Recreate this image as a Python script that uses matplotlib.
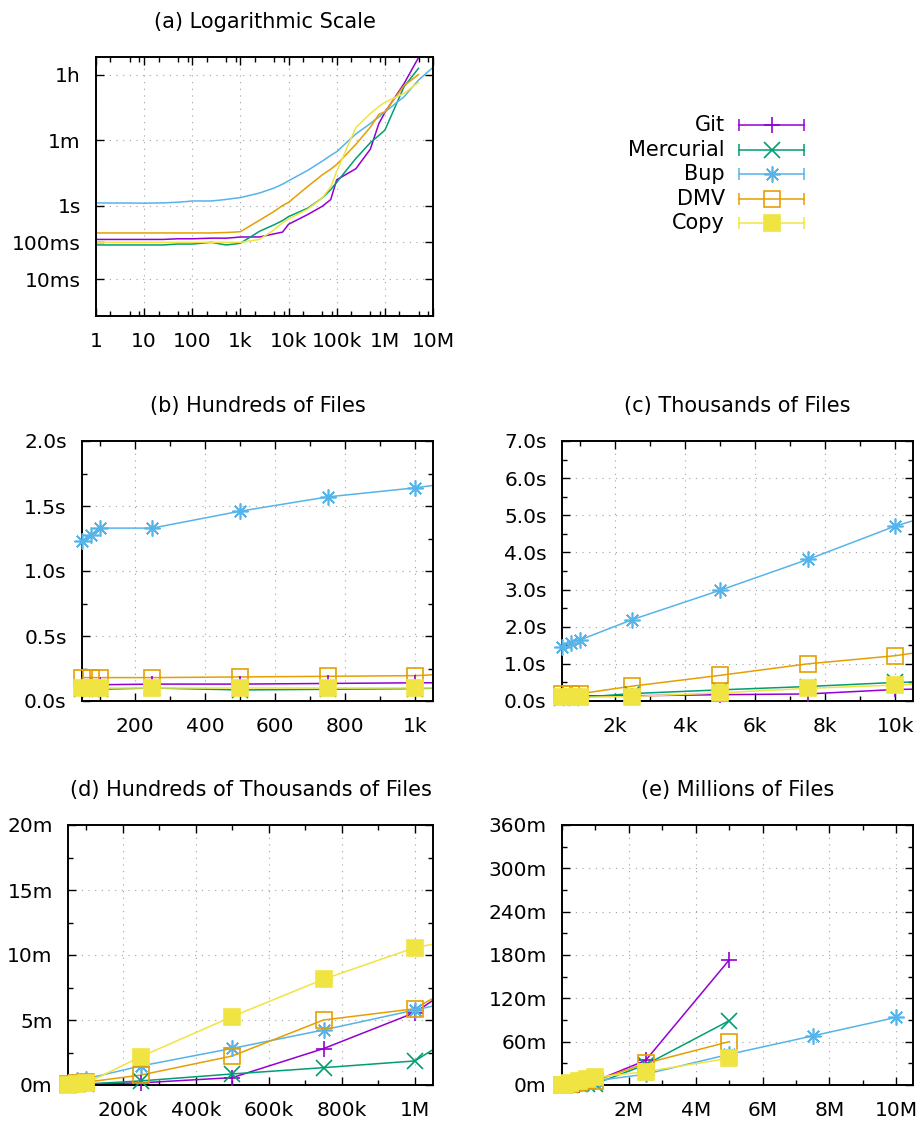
import numpy as np
import matplotlib
matplotlib.use('Agg')
import matplotlib.pyplot as plt
from matplotlib.ticker import FixedLocator, NullFormatter

nan = np.nan

# number of files
files = [1, 2, 5, 10, 25, 50, 75, 100, 250, 500, 750, 1000, 2500, 5000, 7500, 10000,
         25000, 50000, 75000, 100000, 250000, 500000, 750000, 1000000,
         2500000, 5000000, 7500000, 10000000]

# time in seconds
git = [0.12, 0.12, 0.12, 0.12, 0.12, 0.125, 0.125, 0.125, 0.13, 0.13, 0.135, 0.14,
       0.14, 0.17, 0.19, 0.31, 0.57, 0.95, 1.45, 5.0, 10.0, 34, 168, 334,
       2040, 10380, nan, nan]
mercurial = [0.085, 0.085, 0.085, 0.085, 0.085, 0.09, 0.09, 0.09, 0.1, 0.085, 0.09, 0.095,
             0.2, 0.3, 0.39, 0.5, 0.85, 1.6, 2.7, 4.3, 19, 51, 80, 111,
             1680, 5340, nan, nan]
bup = [1.18, 1.17, 1.17, 1.16, 1.18, 1.23, 1.28, 1.33, 1.33, 1.46, 1.57, 1.64,
       2.19, 2.98, 3.81, 4.71, 9.0, 16, 23, 29, 88, 169, 254, 346,
       900, 2550, 4080, 5620]
dmv = [0.18, 0.18, 0.18, 0.18, 0.18, 0.18, 0.18, 0.18, 0.18, 0.185, 0.19, 0.195,
       0.4, 0.69, 1.0, 1.22, 3.3, 6.8, 9.7, 13, 46, 134, 300, 352,
       1800, 3600, nan, nan]
copy = [0.1, 0.1, 0.1, 0.1, 0.1, 0.1, 0.1, 0.1, 0.1, 0.1, 0.1, 0.1,
        0.12, 0.22, 0.34, 0.43, 0.8, 1.6, 3.2, 8.5, 131, 316, 488, 634,
        1110, 2220, nan, nan]

names = ['Git', 'Mercurial', 'Bup', 'DMV', 'Copy']
series = [git, mercurial, bup, dmv, copy]
colors = ['#9400d3', '#009e73', '#56b4e9', '#e69f00', '#f0e442']
markers = ['+', 'x', (8, 2, 0), 's', 's']
filled = [False, False, False, False, True]

W, H = 921, 1122
fig = plt.figure(figsize=(W / 100, H / 100), dpi=100)
plt.rcParams['font.family'] = 'DejaVu Sans'

def box(l, r, t, b):
    return [l / W, 1 - b / H, (r - l) / W, (b - t) / H]

def style(ax, title):
    ax.set_title(title, fontsize=15, pad=21)
    for s in ax.spines.values():
        s.set_linewidth(1.4)
    ax.tick_params(which='both', direction='in', top=True, right=True, labelsize=14.5)
    ax.tick_params(which='major', length=6, width=1)
    ax.tick_params(which='minor', length=3.5, width=1)
    ax.tick_params(axis='x', pad=11.5)
    ax.tick_params(axis='y', pad=11)
    ax.grid(True, which='major', color='#a0a0a0', lw=0.8, ls=(0, (1, 5)))
    ax.set_axisbelow(True)

x = np.array(files, dtype=float)

# (a) log scale
ax = fig.add_axes(box(96, 433, 57, 316))
for y, c in zip(series, colors):
    ax.plot(x, y, color=c, lw=1.1)
ax.set_xscale('log')
ax.set_yscale('log')
ax.set_xlim(1, 1e7)
ax.set_ylim(1e-3, 10800)
ax.set_xticks([1, 10, 100, 1e3, 1e4, 1e5, 1e6, 1e7])
ax.set_xticklabels(['1', '10', '100', '1k', '10k', '100k', '1M', '10M'])
ax.xaxis.set_minor_locator(FixedLocator([m * 10 ** d for d in range(7) for m in (2, 5, 8)]))
ax.xaxis.set_minor_formatter(NullFormatter())
ax.set_yticks([0.01, 0.1, 1, 60, 3600])
ax.set_yticklabels(['10ms', '100ms', '1s', '1m', '1h'])
ax.yaxis.set_minor_locator(FixedLocator([]))
style(ax, '(a) Logarithmic Scale')

panels = [
    ((82, 433, 441, 701), '(b) Hundreds of Files', (50, 1050), 1, (0, 2.0), 0.5, 0.25,
     [200, 400, 600, 800, 1000], ['200', '400', '600', '800', '1k'], 100, '{:.1f}s'),
    ((562, 913, 441, 701), '(c) Thousands of Files', (500, 10500), 1, (0, 7.0), 1.0, 0.5,
     [2000, 4000, 6000, 8000, 10000], ['2k', '4k', '6k', '8k', '10k'], 1000, '{:.1f}s'),
    ((68, 433, 825, 1085), '(d) Hundreds of Thousands of Files', (50000, 1050000), 60, (0, 20), 5, 2.5,
     [200000, 400000, 600000, 800000, 1000000], ['200k', '400k', '600k', '800k', '1M'], 100000, '{:g}m'),
    ((562, 913, 825, 1085), '(e) Millions of Files', (0, 10500000), 60, (0, 360), 60, 30,
     [2e6, 4e6, 6e6, 8e6, 1e7], ['2M', '4M', '6M', '8M', '10M'], 1e6, '{:g}m'),
]

for pos, title, xl, div, yl, ystep, yminor, xt, xtl, xminor, fmt in panels:
    ax = fig.add_axes(box(*pos))
    inside = (x >= xl[0]) & (x <= xl[1])
    for y, c, m, f in zip(series, colors, markers, filled):
        yy = np.array(y) / div
        ax.plot(x, yy, color=c, lw=1.1)
        ax.plot(x[inside], yy[inside], ls='none', marker=m, ms=11.5, mew=1.2,
                color=c, mfc=c if f else 'none', clip_on=False, zorder=3)
    ax.set_xlim(*xl)
    ax.set_ylim(*yl)
    ax.set_xticks(xt)
    ax.set_xticklabels(xtl)
    ax.xaxis.set_minor_locator(FixedLocator(np.arange(xl[0] - xl[0] % xminor, xl[1] + 1, xminor)))
    yt = np.arange(yl[0], yl[1] + ystep / 2, ystep)
    ax.set_yticks(yt)
    ax.set_yticklabels([fmt.format(v) for v in yt])
    ax.yaxis.set_minor_locator(FixedLocator(np.arange(yl[0], yl[1] + 1e-9, yminor)))
    style(ax, title)

# legend, gnuplot style
lg = fig.add_axes([0, 0, 1, 1], facecolor='none')
lg.set_xlim(0, W)
lg.set_ylim(H, 0)
lg.axis('off')
for i, (n, c, m, f) in enumerate(zip(names, colors, markers, filled)):
    yy = 125 + i * 24.6
    lg.text(725, yy, n, ha='right', va='center', fontsize=15)
    lg.plot([739, 804], [yy, yy], color=c, lw=1.1)
    lg.plot([739, 804], [yy, yy], ls='none', marker='|', ms=8, mew=1.1, color=c)
    lg.plot([771.5], [yy], marker=m, ms=11.5, mew=1.2, color=c, mfc=c if f else 'none')

fig.savefig('out.png', dpi=100)
